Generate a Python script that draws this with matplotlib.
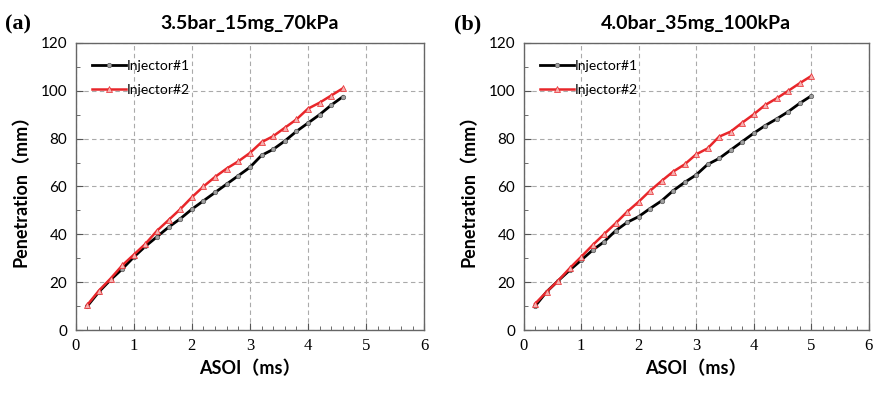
import numpy as np
import matplotlib
matplotlib.use("Agg")
import matplotlib.pyplot as plt
from matplotlib.ticker import MultipleLocator

# ASOI time (ms)
t_a = [0.2, 0.4, 0.6, 0.8, 1.0, 1.2, 1.4, 1.6, 1.8, 2.0, 2.2, 2.4,
       2.6, 2.8, 3.0, 3.2, 3.4, 3.6, 3.8, 4.0, 4.2, 4.4, 4.6]
t_b = t_a + [4.8, 5.0]

# penetration (mm), panel (a)
inj1_a = [10, 16, 21, 25.5, 30.5, 35, 39, 43, 46.5, 50.5, 54, 57.5,
          61, 64.5, 68, 73, 75.5, 79, 83, 86.5, 90, 94, 97.5]
inj2_a = [10.5, 16.5, 21.5, 27, 31.5, 36, 41.5, 46, 50.5, 55.5, 60, 64,
          67.5, 70.5, 74, 78.5, 81, 84.5, 88, 92.5, 95, 98, 101]

# penetration (mm), panel (b)
inj1_b = [10, 16, 20.6, 25, 29.2, 33.4, 36.9, 41.5, 45, 47.4, 50.8, 54,
          58.2, 61.7, 64.8, 69.2, 71.7, 75.2, 78.7, 82.2, 85.4, 88.2,
          91.2, 94.7, 97.8]
inj2_b = [11, 16, 20.6, 25.8, 30.6, 35.5, 40.1, 44.6, 49.4, 53.6, 58.2, 62.3,
          66.2, 69.2, 73.4, 75.9, 80.8, 82.9, 86.6, 90.1, 94, 96.8,
          99.9, 103.1, 106.1]

titles = ["3.5bar_15mg_70kPa", "4.0bar_35mg_100kPa"]
tags = ["(a)", "(b)"]
labels = ["Injector#1", "Injector#2"]

label_font = ["Lato", "Noto Sans CJK SC"]

fig = plt.figure(figsize=(8.8, 3.93), dpi=100)
ax_a = fig.add_axes([0.086, 0.160, 0.396, 0.731])
ax_b = fig.add_axes([0.595, 0.160, 0.392, 0.731])

panels = [
    (ax_a, t_a, inj1_a, inj2_a),
    (ax_b, t_b, inj1_b, inj2_b),
]

for i, (ax, t, y1, y2) in enumerate(panels):
    ax.plot(t, y1, color="black", lw=2, marker="o", ms=3.2,
            mfc="#a0a0a0", mec="#555555", mew=0.5, label=labels[0], zorder=3)
    ax.plot(t, y2, color="#e8262a", lw=1.8, marker="^", ms=3.8,
            mfc="#f5b0b0", mec="#e8262a", mew=0.5, label=labels[1], zorder=4)

    ax.set_xlim(0, 6)
    ax.set_ylim(0, 120)
    ax.xaxis.set_major_locator(MultipleLocator(1))
    ax.xaxis.set_minor_locator(MultipleLocator(0.2))
    ax.yaxis.set_major_locator(MultipleLocator(20))
    ax.yaxis.set_minor_locator(MultipleLocator(10))
    ax.tick_params(which="both", direction="in", color="#555555")
    ax.tick_params(which="major", length=5, width=0.8)
    ax.tick_params(which="minor", length=3, width=0.6)
    ax.tick_params(axis="y", labelsize=11, pad=6)
    ax.tick_params(axis="x", labelsize=12, pad=6)
    for lab in ax.get_xticklabels():
        lab.set_family("Liberation Serif")
    for lab in ax.get_yticklabels():
        lab.set_family("Lato")

    ax.grid(True, which="major", ls=(0, (4, 3)), color="#aaaaaa", lw=0.8)
    for s in ax.spines.values():
        s.set_color("#666666")
        s.set_linewidth(1)

    ax.set_xlabel("ASOI（ms）", fontsize=13, fontweight="bold",
                  family=label_font, labelpad=4)
    ax.set_ylabel("Penetration（mm）", fontsize=13, fontweight="bold",
                  family=label_font, labelpad=8)
    ax.set_title(titles[i], fontsize=14, fontweight="bold", family="Lato", pad=10)

    ax.legend(loc="upper left", frameon=False,
              handlelength=2.4, handletextpad=0.1, labelspacing=0.9,
              borderaxespad=0.8, prop={"family": "Lato", "size": 10})

fig.text(0.006, 0.925, tags[0], fontsize=16, fontweight="bold",
         family="Liberation Serif")
fig.text(0.516, 0.925, tags[1], fontsize=16, fontweight="bold",
         family="Liberation Serif")

fig.savefig("out.png", dpi=100)
